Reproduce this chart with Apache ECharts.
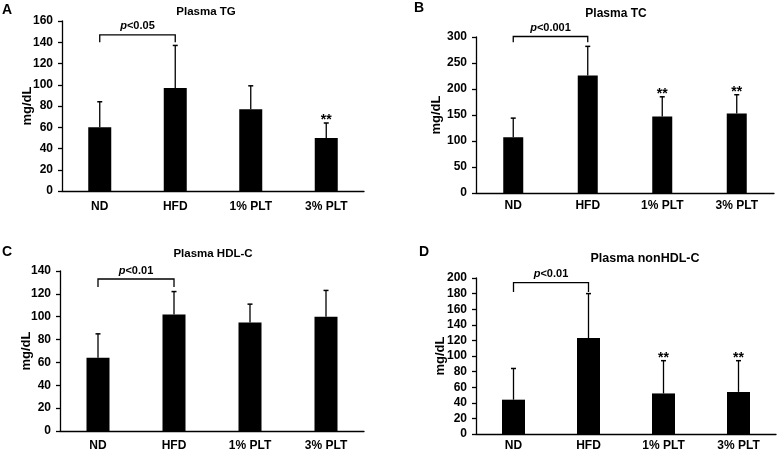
<!DOCTYPE html>
<html>
<head>
<meta charset="utf-8">
<script src="https://cdn.jsdelivr.net/npm/echarts@6/dist/echarts.min.js"></script>
<style>
html,body{margin:0;padding:0;background:#fff;}
#chart{width:778px;height:457px;}
</style>
</head>
<body>
<div id="chart"></div>
<script>
// ---- data ----
const categories = ['ND', 'HFD', '1% PLT', '3% PLT'];

const tgMean = [60, 97, 77, 50];
const tgSD = [24, 40, 22, 14];
const tgStars = ['', '', '', '**'];

const tcMean = [107, 226, 147, 153];
const tcSD = [37, 56, 38, 36];
const tcStars = ['', '', '**', '**'];

const hdlMean = [64, 102, 95, 100];
const hdlSD = [21, 20, 16, 23];
const hdlStars = ['', '', '', ''];

const nonhdlMean = [44, 123, 52, 54];
const nonhdlSD = [40, 57, 42, 40];
const nonhdlStars = ['', '', '**', '**'];

const titles = ['Plasma TG', 'Plasma TC', 'Plasma HDL-C', 'Plasma nonHDL-C'];
const letters = ['A', 'B', 'C', 'D'];
const pTexts = ['<0.05', '<0.001', '<0.01', '<0.01'];
// bracket: [line value, drop value]
const bracketTG = [147, 140];
const bracketTC = [301, 290];
const bracketHDL = [133, 126];
const bracketNonHDL = [194, 182];
const yMax = [160, 300, 140, 200];
const yStep = [20, 50, 20, 20];

// ---- layout ----
const FONT = '"Liberation Sans", Arial, sans-serif';
const panels = [
  {mean: tgMean, sd: tgSD, stars: tgStars, bracket: bracketTG,
   grid: {left: 62, top: 21, width: 302, height: 170}, barWidth: 23, nameGap: 28.5, labelMargin: 10,
   title: [206, 12], titleSize: 11.5, letter: [2, 10]},
  {mean: tcMean, sd: tcSD, stars: tcStars, bracket: bracketTC,
   grid: {left: 476, top: 37, width: 298, height: 156}, barWidth: 20, nameGap: 33, labelMargin: 7,
   title: [616, 14], titleSize: 12, letter: [414, 8]},
  {mean: hdlMean, sd: hdlSD, stars: hdlStars, bracket: bracketHDL,
   grid: {left: 60, top: 271, width: 304, height: 160}, barWidth: 23, nameGap: 27, labelMargin: 9,
   title: [213, 254], titleSize: 11.5, letter: [2, 252]},
  {mean: nonhdlMean, sd: nonhdlSD, stars: nonhdlStars, bracket: bracketNonHDL,
   grid: {left: 476, top: 278, width: 300, height: 156}, barWidth: 23, nameGap: 29.5, labelMargin: 6,
   title: [645, 259], titleSize: 12.5, letter: [419, 252]}
];

const option = {
  animation: false,
  backgroundColor: '#fff',
  grid: [], xAxis: [], yAxis: [], series: [], graphic: []
};

panels.forEach((p, i) => {
  option.grid.push(Object.assign({containLabel: false}, p.grid));
  option.xAxis.push({
    type: 'category', gridIndex: i, data: categories,
    axisLine: {lineStyle: {color: '#000', width: 1.3}},
    axisTick: {show: false},
    axisLabel: {color: '#000', fontFamily: FONT, fontWeight: 'bold', fontSize: 12, margin: p.labelMargin, interval: 0}
  });
  option.yAxis.push({
    type: 'value', gridIndex: i, min: 0, max: yMax[i], interval: yStep[i],
    name: 'mg/dL', nameLocation: 'middle', nameGap: p.nameGap, nameRotate: 90, nameMoveOverlap: false,
    nameTextStyle: {color: '#000', fontFamily: FONT, fontWeight: 'bold', fontSize: 13},
    axisLine: {show: true, lineStyle: {color: '#000', width: 1.3}},
    axisTick: {show: true, length: 4, lineStyle: {color: '#000', width: 1.3}},
    axisLabel: {color: '#000', fontFamily: FONT, fontWeight: 'bold', fontSize: 12, margin: 9},
    splitLine: {show: false}
  });
  option.series.push({
    type: 'bar', xAxisIndex: i, yAxisIndex: i, data: p.mean, barWidth: p.barWidth,
    itemStyle: {color: '#000'}, silent: true
  });
  // error bars (upper only) + stars
  option.series.push({
    type: 'custom', xAxisIndex: i, yAxisIndex: i, clip: false, silent: true, z: 5,
    data: p.mean.map((m, k) => [k, m, m + p.sd[k]]),
    renderItem: function (params, api) {
      const k = api.value(0);
      const base = api.coord([k, api.value(1)]);
      const top = api.coord([k, api.value(2)]);
      const children = [
        {type: 'line', shape: {x1: base[0], y1: base[1], x2: top[0], y2: top[1]}, style: {stroke: '#000', lineWidth: 1.3}},
        {type: 'line', shape: {x1: top[0] - 2.5, y1: top[1], x2: top[0] + 2.5, y2: top[1]}, style: {stroke: '#000', lineWidth: 1.5}}
      ];
      const s = p.stars[k];
      if (s) {
        children.push({type: 'text', x: top[0], y: top[1] - 3,
          style: {text: s, fill: '#000', font: 'bold 14px ' + FONT, align: 'center', verticalAlign: 'middle'}});
      }
      return {type: 'group', children: children};
    }
  });
  // significance bracket
  option.series.push({
    type: 'custom', xAxisIndex: i, yAxisIndex: i, clip: false, silent: true, z: 5,
    data: [[0, 1, p.bracket[0], p.bracket[1]]],
    renderItem: function (params, api) {
      const a = api.coord([api.value(0), api.value(2)]);
      const b = api.coord([api.value(1), api.value(2)]);
      const drop = api.coord([api.value(0), api.value(3)])[1];
      return {type: 'group', children: [
        {type: 'polyline', shape: {points: [[a[0], drop], [a[0], a[1]], [b[0], b[1]], [b[0], drop]]},
         style: {stroke: '#000', lineWidth: 1.3, fill: null}},
        {type: 'text', x: (a[0] + b[0]) / 2, y: a[1] - 3,
         style: {text: '{i|p}' + pTexts[i], fill: '#000', font: 'bold 11px ' + FONT,
                 align: 'center', verticalAlign: 'bottom',
                 rich: {i: {fontStyle: 'italic', fontWeight: 'bold', fontSize: 11, fontFamily: FONT}}}}
      ]};
    }
  });
  option.graphic.push({
    type: 'text', x: p.title[0], y: p.title[1],
    style: {text: titles[i], fill: '#000', font: 'bold ' + p.titleSize + 'px ' + FONT, align: 'center', verticalAlign: 'middle'}
  });
  option.graphic.push({
    type: 'text', x: p.letter[0], y: p.letter[1],
    style: {text: letters[i], fill: '#000', font: 'bold 14px ' + FONT, align: 'left', verticalAlign: 'middle'}
  });
});

const chart = echarts.init(document.getElementById('chart'), null, {renderer: 'canvas'});
chart.setOption(option);
</script>
</body>
</html>
